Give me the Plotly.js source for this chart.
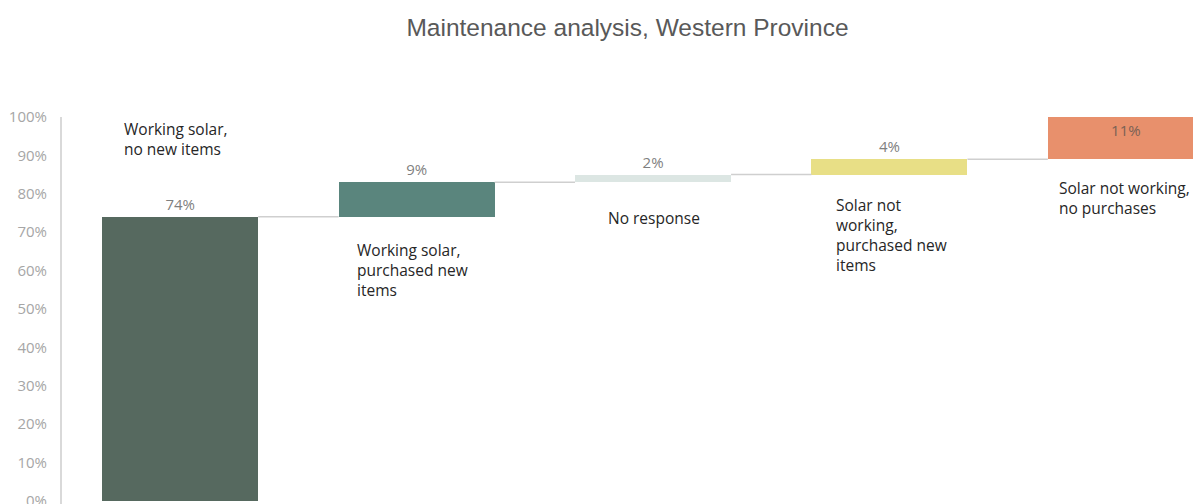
<!DOCTYPE html>
<html>
<head>
<meta charset="utf-8">
<script src="https://cdn.plot.ly/plotly-3.0.1.min.js"></script>
<style>html,body{margin:0;padding:0;overflow:hidden;background:#fff}#chart{width:1193px;height:504px}</style>
</head>
<body>
<div id="chart"></div>
<script>
const categories = [
  "Working solar,<br>no new items",
  "Working solar,<br>purchased new<br>items",
  "No response",
  "Solar not<br>working,<br>purchased new<br>items",
  "Solar not working,<br>no purchases"
];
const values = [74, 9, 2, 4, 11];
const valueLabels = ["74%", "9%", "2%", "4%", "11%"];
const colors = ["#56695f", "#5a857d", "#dce6e3", "#e8df86", "#e8906c"];
const yTicks = [0, 10, 20, 30, 40, 50, 60, 70, 80, 90, 100];

const idx = values.map((_, i) => i);
const bases = [];
let run = 0;
values.forEach(v => { bases.push(run); run += v; });
const tops = values.map((v, i) => bases[i] + v);
const barWidth = 0.66;

// connectors
const cx = [], cy = [];
for (let i = 0; i < values.length - 1; i++) {
  cx.push(i + barWidth / 2, i + 1 - barWidth / 2, null);
  cy.push(tops[i], tops[i], null);
}

const bars = {
  type: "bar",
  x: idx,
  y: values,
  base: bases,
  width: barWidth,
  marker: { color: colors, line: { width: 0 } },
  text: valueLabels,
  textposition: ["outside", "outside", "outside", "outside", "inside"],
  insidetextanchor: "end",
  constraintext: "none",
  cliponaxis: false,
  textfont: { family: "Open Sans, sans-serif", size: 15, color: "#7f7f7f" },
  insidetextfont: { family: "Open Sans, sans-serif", size: 15, color: "#7a6155" },
  outsidetextfont: { family: "Open Sans, sans-serif", size: 15, color: "#7f7f7f" },
  hoverinfo: "skip",
  showlegend: false
};

const connectors = {
  type: "scatter",
  mode: "lines",
  x: cx,
  y: cy,
  line: { color: "#cfcfcf", width: 1.5 },
  hoverinfo: "skip",
  showlegend: false
};

// category label placement (layout only)
const labelPos = [
  { dx: -0.245, y: 100, yshift: 1 },
  { dx: -0.262, y: bases[1], yshift: -20 },
  { dx: -0.20, y: bases[2], yshift: -23 },
  { dx: -0.233, y: bases[3], yshift: -17 },
  { dx: -0.29, y: bases[4], yshift: -16 }
];

const annotations = categories.map((c, i) => ({
  x: i + labelPos[i].dx,
  y: labelPos[i].y,
  xref: "x", yref: "y",
  xanchor: "left", yanchor: "top",
  yshift: labelPos[i].yshift,
  text: c,
  showarrow: false,
  align: "left",
  font: { family: "Open Sans, sans-serif", size: 15.5, color: "#262626" }
}));

const layout = {
  width: 1193,
  height: 504,
  margin: { l: 62, r: 0, t: 117, b: 0, pad: 0 },
  paper_bgcolor: "#ffffff",
  plot_bgcolor: "#ffffff",
  title: {
    text: "Maintenance analysis, Western Province",
    font: { family: "Liberation Sans, Arial, sans-serif", size: 24.5, color: "#595959" },
    x: 0.5, xref: "paper", xanchor: "center",
    y: 1 - 27 / 504, yref: "container", yanchor: "middle"
  },
  xaxis: {
    range: [-0.5, 4.284],
    showticklabels: false,
    showgrid: false,
    zeroline: false,
    showline: false,
    fixedrange: true
  },
  yaxis: {
    range: [-0.8, 100],
    tickvals: yTicks,
    ticktext: yTicks.map(t => t + "%"),
    showgrid: false,
    zeroline: false,
    showline: true,
    linecolor: "#d9d9d9",
    linewidth: 2,
    ticks: "",
    ticklabelstandoff: 10,
    ticklabeloverflow: "allow",
    tickfont: { family: "Open Sans, sans-serif", size: 15, color: "#a6a6a6" },
    fixedrange: true
  },
  annotations: annotations,
  bargap: 0
};

Plotly.newPlot("chart", [bars, connectors], layout, { displayModeBar: false, staticPlot: true });
</script>
</body>
</html>
